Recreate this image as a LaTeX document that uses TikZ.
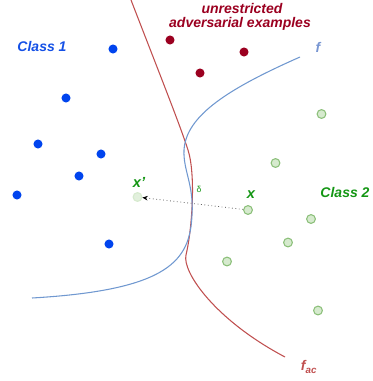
\documentclass[tikz,border=0pt]{standalone}
\usepackage{fontspec}
\setmainfont{Liberation Sans}
\usetikzlibrary{arrows.meta}
\definecolor{dotblue}{RGB}{0,68,238}
\definecolor{dotred}{RGB}{155,0,32}
\definecolor{gfill}{RGB}{214,234,206}
\definecolor{gline}{RGB}{140,192,122}
\definecolor{lblgreen}{RGB}{20,150,20}
\definecolor{curvered}{RGB}{192,80,80}
\definecolor{curveblue}{RGB}{112,152,208}
\definecolor{lblblue}{RGB}{20,80,230}
\definecolor{lblsky}{RGB}{120,150,210}
\tikzset{
  bdot/.style={circle,fill=dotblue,inner sep=0pt,minimum size=6.8pt},
  rdot/.style={circle,fill=dotred,inner sep=0pt,minimum size=6.8pt},
  gdot/.style={circle,fill=gfill,draw=gline,line width=0.8pt,inner sep=0pt,minimum size=6.6pt},
  lbl/.style={font=\bfseries\itshape\fontsize{10.5}{12}\selectfont,inner sep=0pt},
}
\begin{document}
\begin{tikzpicture}[x=0.75pt,y=-0.75pt]
\useasboundingbox (0,0) rectangle (372,381);
% curves
\draw[curvered,line width=0.8pt] (131,0) .. controls (160,75) and (180,125) .. (188,150)
  .. controls (196,175) and (192,230) .. (186,255)
  .. controls (182,272) and (215,320) .. (285,357);
\draw[curveblue,line width=0.8pt] (300,57) .. controls (230,88) and (186,115) .. (184,150)
  .. controls (183,170) and (194,185) .. (192,215)
  .. controls (190,260) and (170,290) .. (32,298);
% class 1
\node[bdot] (b1) at (113,49) {};
\node[bdot] (b2) at (66,98) {};
\node[bdot] (b3) at (38,144) {};
\node[bdot] (b4) at (101,154) {};
\node[bdot] (b5) at (79,176) {};
\node[bdot] (b6) at (17,195) {};
\node[bdot] (b7) at (109,244) {};
% adversarial
\node[rdot] (r1) at (170,40) {};
\node[rdot] (r2) at (244,52) {};
\node[rdot] (r3) at (200,73) {};
% class 2
\node[gdot] (g1) at (321.5,114) {};
\node[gdot] (g2) at (275.5,163) {};
\node[gdot] (x) at (248,210) {};
\node[gdot] (g5) at (311,219) {};
\node[gdot] (g6) at (288,242.5) {};
\node[gdot] (g7) at (227,261.5) {};
\node[gdot] (g8) at (318,310.5) {};
\node[gdot,fill=gfill!70,draw=gfill] (xp) at (137.5,197) {};
% arrow
\draw[gray!80!black,dotted,line width=0.6pt,-{Stealth[length=4pt,width=3.5pt,black]}] (x) -- (xp);
% labels
\node[lbl,text=lblblue] (c1) at (42,46) {Class 1};
\node[lbl,text=lblgreen] (c2) at (345,192) {Class 2};
\node[lbl,text=dotred] (u1) at (242,8.5) {unrestricted};
\node[lbl,text=dotred] (u2) at (240,24) {adversarial examples};
\node[lbl,text=lblsky] (f) at (318,47) {f};
\node[lbl,text=curvered] (fac) at (309,367) {f\textsubscript{ac}};
\node[lbl,text=lblgreen,font=\bfseries\itshape\fontsize{11}{12}\selectfont] (xl) at (251,195) {x};
\node[lbl,text=lblgreen,font=\bfseries\itshape\fontsize{11}{12}\selectfont] (xpl) at (139,182) {x'};
\node[text=lblgreen,inner sep=0pt,font=\fontsize{6.5}{8}\selectfont] (d) at (199,189) {δ};
\end{tikzpicture}
\end{document}
